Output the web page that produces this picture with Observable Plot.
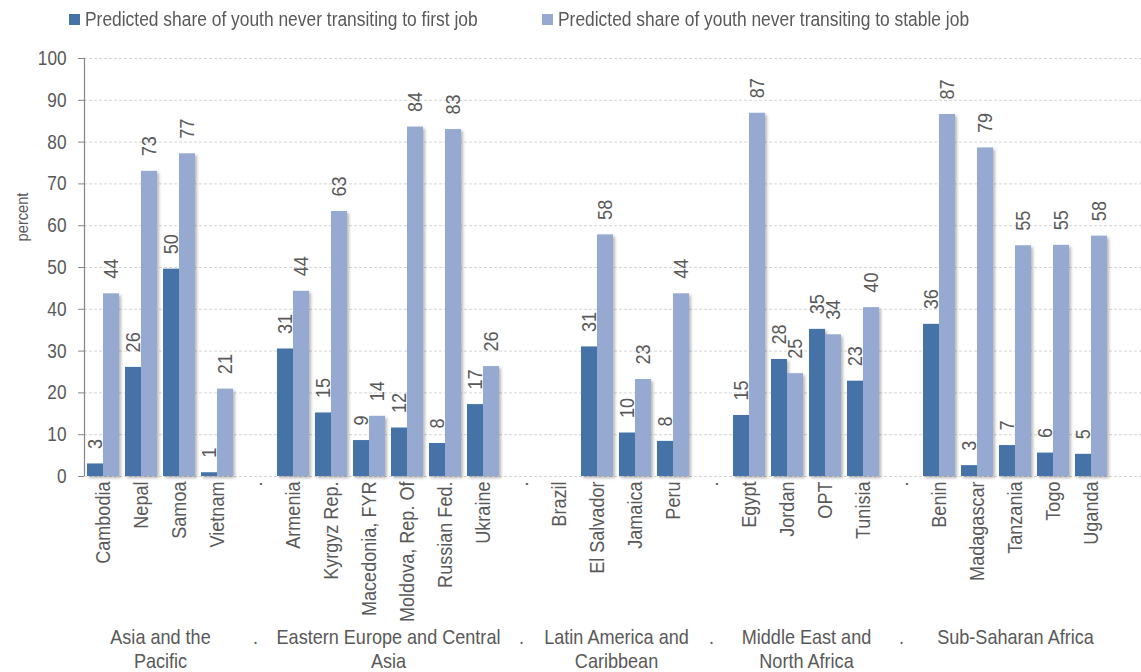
<!DOCTYPE html>
<html>
<head>
<meta charset="utf-8">
<script src="https://cdn.jsdelivr.net/npm/d3@7"></script>
<script src="https://cdn.jsdelivr.net/npm/@observablehq/plot@0.6"></script>
<style>
  html, body { margin: 0; padding: 0; background: #fff; }
  body { width: 1141px; height: 672px; overflow: hidden; font-family: "Liberation Sans", Arial, sans-serif; color: #595959; }
  #wrap { position: relative; width: 1141px; height: 672px; }
  #legend { position: relative; height: 40px; }
  .item { position: absolute; top: 8px; display: flex; align-items: center; font-size: 20px; color: #595959; white-space: nowrap; }
  .sw { width: 11px; height: 11px; margin-right: 5px; flex: none; }
  .lt { display: inline-block; transform: scaleX(0.87); transform-origin: 0 50%; }
  #ylab { position: absolute; left: 22px; top: 217px; width: 0; height: 0; }
  #ylab span { position: absolute; left: 0; top: 0; white-space: nowrap; font-size: 17px; line-height: 1; color: #595959;
               transform: translate(-50%, -50%) rotate(-90deg) scaleX(0.86); }
</style>
</head>
<body>
<div id="wrap">
  <div id="legend"></div>
  <div id="chart"></div>
  <div id="ylab"><span></span></div>
</div>
<script>
// ---- data ----
const countries = ["Cambodia","Nepal","Samoa","Vietnam",".","Armenia","Kyrgyz Rep.","Macedonia, FYR","Moldova, Rep. Of","Russian Fed.","Ukraine",".","Brazil","El Salvador","Jamaica","Peru",".","Egypt","Jordan","OPT","Tunisia",".","Benin","Madagascar","Tanzania","Togo","Uganda"];
const regions = ["Asia and the\nPacific", ".", "Eastern Europe and Central\nAsia", ".", "Latin America and\nCaribbean", ".", "Middle East and\nNorth Africa", ".", "Sub-Saharan Africa"];
const regionSizes = [4, 1, 6, 1, 4, 1, 4, 1, 5];
const firstJob  = [3.0, 26.1, 49.6, 0.9, null, 30.5, 15.2, 8.6, 11.6, 7.9, 17.2, null, null, 31.0, 10.4, 8.4, null, 14.6, 28.0, 35.2, 22.8, null, 36.4, 2.6, 7.4, 5.6, 5.3];
const stableJob = [43.7, 73.0, 77.2, 20.9, null, 44.3, 63.4, 14.4, 83.6, 83.0, 26.3, null, null, 57.8, 23.2, 43.7, null, 86.9, 24.6, 33.9, 40.4, null, 86.6, 78.6, 55.2, 55.3, 57.5];
const seriesNames = ["Predicted share of youth never transiting to first job", "Predicted share of youth never transiting to stable job"];
const yTicks = [0, 10, 20, 30, 40, 50, 60, 70, 80, 90, 100];
const yLabel = "percent";
const colors = ["#4673a7", "#95a9d1"];

// ---- derived tables ----
const slots = countries.map((c, i) => ({i, name: c}));
const bars = [];
countries.forEach((c, i) => {
  if (firstJob[i] != null) bars.push({i, s: 0, v: firstJob[i]});
  if (stableJob[i] != null) bars.push({i, s: 1, v: stableJob[i]});
});
let start = 0;
const regionLines = [];
regions.forEach((r, k) => {
  const mid = start + regionSizes[k] / 2;
  r.split("\n").forEach((line, li) => regionLines.push({mid, line, li}));
  start += regionSizes[k];
});

// slot layout (fractions of one category slot)
const gap = 3 / 38, bw = 16 / 38;
const x1 = d => d.i + gap + d.s * bw;
const x2 = d => d.i + gap + (d.s + 1) * bw;
const xm = d => d.i + gap + (d.s + 0.5) * bw;

// ---- legend & axis title ----
const legend = document.getElementById("legend");
const lefts = [69, 542];
seriesNames.forEach((n, k) => {
  const it = document.createElement("div");
  it.className = "item";
  it.style.left = lefts[k] + "px";
  it.innerHTML = `<span class="sw" style="background:${colors[k]}"></span><span class="lt">${n}</span>`;
  legend.appendChild(it);
});
document.querySelector("#ylab span").textContent = yLabel;

// ---- chart ----
const chart = Plot.plot({
  width: 1141,
  height: 632,
  marginLeft: 84,
  marginRight: 0,
  marginTop: 18,
  marginBottom: 196,
  style: {fontFamily: '"Liberation Sans", Arial, sans-serif', color: "#595959", background: "#fff", overflow: "visible"},
  x: {type: "linear", domain: [0, countries.length], range: [84, 1110], axis: null},
  y: {type: "linear", domain: [0, 100], axis: null},
  color: {domain: [0, 1], range: colors},
  marks: [
    Plot.ruleY(yTicks, {stroke: "#d6d6d6", strokeDasharray: "3,2", strokeWidth: 1}),
    Plot.rectY(bars, {x1, x2, y1: 0, y2: "v", fill: d => d.s}),
    Plot.text(bars, {x: xm, y: "v", text: d => String(Math.round(d.v)), rotate: -90, textAnchor: "start", dy: -15, fontSize: 21, fill: "#595959"}),
    Plot.ruleX([0], {y1: 0, y2: 100, stroke: "#868686", strokeWidth: 1.2}),
    Plot.axisY(yTicks, {tickSize: 6, tickPadding: 12, fontSize: 20, stroke: "#868686", fill: "#595959", label: null}),
    Plot.text(slots, {x: d => d.i + 0.5, y: 0, text: "name", rotate: -90, textAnchor: "end", dy: 5, fontSize: 21, fill: "#595959"}),
    Plot.text(regionLines.filter(d => d.li === 0), {x: "mid", y: 0, text: "line", textAnchor: "middle", dy: 161, fontSize: 21, fill: "#595959"}),
    Plot.text(regionLines.filter(d => d.li === 1), {x: "mid", y: 0, text: "line", textAnchor: "middle", dy: 185, fontSize: 21, fill: "#595959"})
  ]
});
document.getElementById("chart").appendChild(chart);

// condense single-line labels along their own direction (narrow face look)
chart.querySelectorAll("text").forEach(t => {
  if (t.querySelector("tspan")) return;
  const L = t.getComputedTextLength();
  if (L > 0) {
    t.setAttribute("textLength", (L * 0.86).toFixed(2));
    t.setAttribute("lengthAdjust", "spacingAndGlyphs");
  }
});
// subtle Excel-like shadow on bars
chart.querySelectorAll('g[aria-label="rect"]').forEach(g => g.style.filter = "drop-shadow(2px 2px 1.5px rgba(0,0,0,0.28))");
</script>
</body>
</html>
